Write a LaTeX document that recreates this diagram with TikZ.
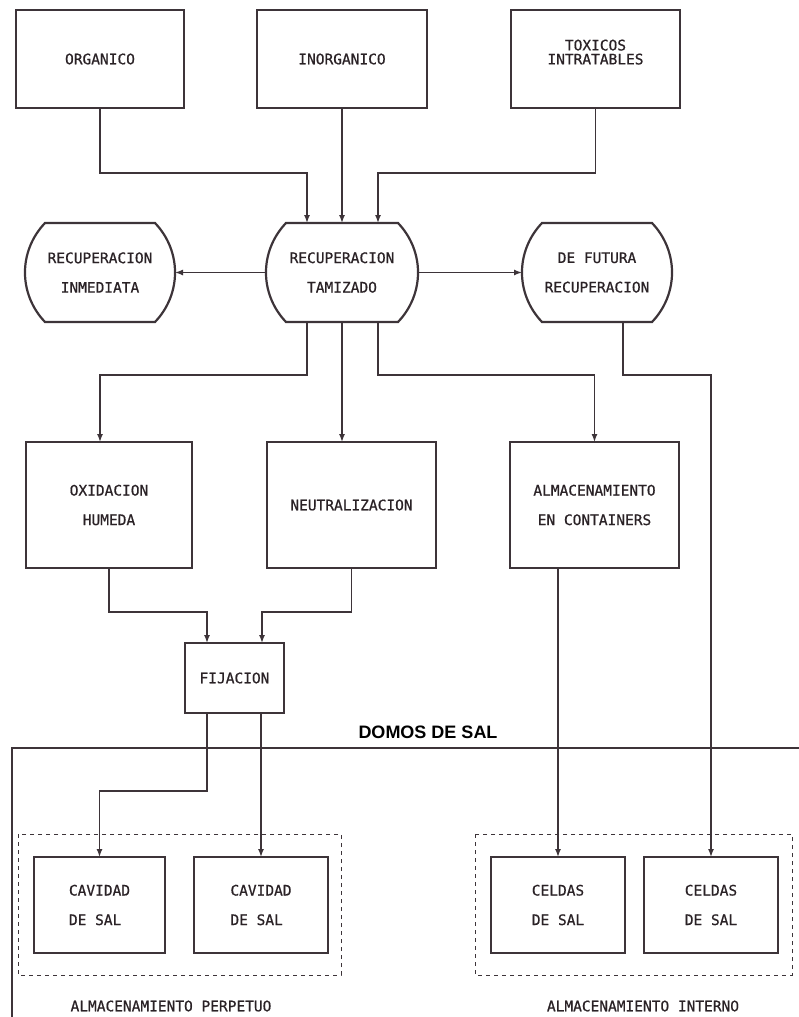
\documentclass[tikz,border=0pt]{standalone}
\usepackage{fontspec}
\setmainfont{DejaVu Sans Mono}[FakeBold=0.7]
\newfontfamily\headfont{Liberation Sans}
\usetikzlibrary{arrows.meta,calc}
\definecolor{ink}{HTML}{3D3439}
\definecolor{txt}{HTML}{2A2226}
\begin{document}
\begin{tikzpicture}[x=1pt,y=-1pt,
  lbl/.style={text=txt, font=\fontsize{14.5}{29.5}\selectfont, align=center, inner sep=0pt, outer sep=0pt},
  stepbox/.style={lbl, draw=ink, line width=2.2pt, rectangle},
  cellbox/.style={stepbox, line width=2.6pt, minimum width=134pt, minimum height=96pt, align=left},
  capsule/.style={lbl, rectangle, minimum width=150pt, minimum height=99pt},
  conn/.style={draw=ink, line width=1.4pt, -{Latex[length=8pt,width=6pt]}},
  wire/.style={draw=ink, line width=1.4pt},
  group/.style={draw=ink, line width=0.9pt, dash pattern=on 4pt off 4pt},
]
\fill[white] (0,0) rectangle (799,1017);
\useasboundingbox (0,0) rectangle (799,1017);

% waste sources
\node[stepbox, minimum width=168pt, minimum height=98pt] (org) at (100,59) {ORGANICO};
\node[stepbox, minimum width=170pt, minimum height=98pt] (inorg) at (342,59) {INORGANICO};
\node[stepbox, minimum width=169pt, minimum height=98pt,
      font=\fontsize{14.5}{14}\selectfont, text depth=14pt] (tox) at (595.5,59) {TOXICOS\\INTRATABLES};

% recovery stages (capsule outlines drawn below)
\node[capsule] (ri) at (100,272.5) {RECUPERACION\\INMEDIATA};
\node[capsule, minimum width=152pt] (rt) at (342,272.5) {RECUPERACION\\TAMIZADO};
\node[capsule] (df) at (597,272.5) {DE FUTURA\\RECUPERACION};
\foreach \n in {ri,rt,df}
  \draw[ink, line width=2.2pt]
    ($(\n.north west)+(20,0)$) -- ($(\n.north east)+(-20,0)$)
    .. controls ($(\n.north east)+(6.7,28)$) and ($(\n.south east)+(6.7,-28)$) .. ($(\n.south east)+(-20,0)$)
    -- ($(\n.south west)+(20,0)$)
    .. controls ($(\n.south west)+(-6.7,-28)$) and ($(\n.north west)+(-6.7,28)$) .. cycle;

% treatments
\node[stepbox, minimum width=166pt, minimum height=126pt] (ox) at (109,505) {OXIDACION\\HUMEDA};
\node[stepbox, minimum width=169pt, minimum height=126pt] (neu) at (351.5,505) {NEUTRALIZACION};
\node[stepbox, minimum width=169pt, minimum height=126pt] (alm) at (594.5,505) {ALMACENAMIENTO\\EN CONTAINERS};
\node[stepbox, minimum width=99pt, minimum height=70pt] (fij) at (234.5,678) {FIJACION};

% salt dome boundary
\draw[wire] (799,748) -- (12,748) -- (12,1017);
\node[font=\headfont\bfseries\fontsize{18}{18}\selectfont, text=black, inner sep=0pt] (domos) at (428,732) {DOMOS DE SAL};

% final storage
\draw[group] (18,834) rectangle (341,975);
\draw[group] (475,834) rectangle (792,975);
\node[cellbox, minimum width=131pt] (c1) at (99.5,905) {CAVIDAD\\DE SAL};
\node[cellbox] (c2) at (261,905) {CAVIDAD\\DE SAL};
\node[cellbox] (e1) at (558,905) {CELDAS\\DE SAL};
\node[cellbox] (e2) at (711,905) {CELDAS\\DE SAL};
\node[lbl] (perp) at (171,1006) {ALMACENAMIENTO PERPETUO};
\node[lbl] (intn) at (643,1006) {ALMACENAMIENTO INTERNO};

% flows
\draw[conn] (org.south) -- ++(0,65) -| ($(rt.north)+(-35,0)$);
\draw[conn] (inorg.south) -- (rt.north);
\draw[conn] (tox.south) -- ++(0,65) -| ($(rt.north)+(36,0)$);
\draw[conn] (rt.west) -- (ri.east);
\draw[conn] (rt.east) -- (df.west);
\draw[conn] ($(rt.south)+(-35,0)$) -- ++(0,53) -| ($(ox.north)+(-9,0)$);
\draw[conn] (rt.south) -- (rt.south |- neu.north);
\draw[conn] ($(rt.south)+(36,0)$) -- ++(0,53) -| (alm.north);
\draw[conn] ($(df.south)+(26,0)$) -- ++(0,53) -| (e2.north);
\draw[conn] (e1.north |- alm.south) -- (e1.north);
\draw[conn] (ox.south) -- ++(0,44) -| ($(fij.north)+(-27.5,0)$);
\draw[conn] (neu.south) -- ++(0,44) -| ($(fij.north)+(27.5,0)$);
\draw[conn] ($(fij.south)+(-27.5,0)$) -- ++(0,78) -| (c1.north);
\draw[conn] (c2.north |- fij.south) -- (c2.north);
\end{tikzpicture}
\end{document}
